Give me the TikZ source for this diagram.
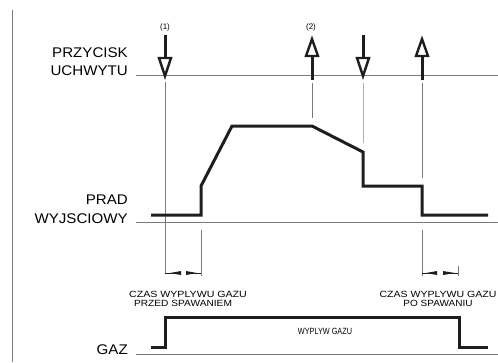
\documentclass[tikz,border=0pt]{standalone}
\usepackage{fontspec}
\setmainfont{Liberation Sans}
\usepackage{graphicx}
\definecolor{thinc}{HTML}{7A7A7A}
\definecolor{wavec}{HTML}{1E1E1E}
\begin{document}
\begin{tikzpicture}[x=1pt,y=-1pt,
  thinline/.style={draw=thinc, line width=0.8pt},
  wave/.style={draw=wavec, line width=3pt, line join=miter},
  biglabel/.style={font=\fontsize{14}{16}\selectfont, anchor=base east, inner sep=0pt},
  smalllabel/.style={font=\fontsize{9}{10}\selectfont, anchor=base, inner sep=0pt},
  numlabel/.style={font=\fontsize{8}{10}\selectfont, anchor=base, inner sep=0pt},
  shaft/.style={draw=wavec, line width=3pt},
  head/.style={draw=wavec, fill=white, line width=2.4pt, line join=miter},
  wedge/.style={fill=wavec, draw=none}
]
\useasboundingbox (0,0) rectangle (498,362);

% frame / axes
\draw[thinline] (12,10) -- (12,362);
\draw[thinline] (136,75) -- (498,75);
\draw[thinline] (136,222) -- (498,222);
\draw[thinline] (136,354) -- (498,354);

% labels
\node[biglabel] (l1) at (128,57) {\scalebox{1.08}[1]{PRZYCISK}};
\node[biglabel] (l2) at (128,75) {\scalebox{1.08}[1]{UCHWYTU}};
\node[biglabel] (l3) at (128,204) {\scalebox{1.08}[1]{PRAD}};
\node[biglabel] (l4) at (128,223) {\scalebox{1.08}[1]{WYJSCIOWY}};
\node[biglabel] (l5) at (128,354) {\scalebox{1.08}[1]{GAZ}};

\node[numlabel] (n1) at (165,29) {(1)};
\node[numlabel] (n2) at (311,29) {(2)};

% vertical guide lines
\draw[thinline] (165,82) -- (165,274);
\draw[thinline] (201,230) -- (201,276);
\draw[thinline] (312,83) -- (312,118);
\draw[thinline, draw=thinc!60] (363,83) -- (363,143);
\draw[thinline] (422,83) -- (422,178);
\draw[thinline] (422,230) -- (422,276);
\draw[thinline] (458,266) -- (458,276);

% down arrows
\foreach \x in {165,363}{
  \draw[shaft] (\x,35) -- (\x,58);
  \draw[head] (\x-6,58) -- (\x+6,58) -- (\x,76) -- cycle;
}
% up arrows
\foreach \x in {312,422}{
  \draw[shaft] (\x,57) -- (\x,80);
  \draw[head] (\x-6,56) -- (\x+6,56) -- (\x,39) -- cycle;
}

% dimension arrows
\draw[draw=wavec, line width=0.8pt] (165,273) -- (181,273);
\fill[wedge] (181,271) -- (181,275) -- (170,273) -- cycle;
\draw[draw=wavec, line width=0.8pt] (186,273) -- (201,273);
\fill[wedge] (186,271) -- (186,275) -- (197,273) -- cycle;

\draw[draw=wavec, line width=0.8pt] (422,273) -- (437,273);
\fill[wedge] (437,271) -- (437,275) -- (426,273) -- cycle;
\draw[draw=wavec, line width=0.8pt] (443,273) -- (458,273);
\fill[wedge] (443,271) -- (443,275) -- (455,273) -- cycle;

% dimension texts
\node[smalllabel] (t1) at (188,297) {\scalebox{1.18}[1]{CZAS WYPLYWU GAZU}};
\node[smalllabel] (t2) at (183,306) {\scalebox{1.13}[1]{PRZED SPAWANIEM}};
\node[smalllabel] (t3) at (438,297) {\scalebox{1.17}[1]{CZAS WYPLYWU GAZU}};
\node[smalllabel] (t4) at (438,306) {\scalebox{1.11}[1]{PO SPAWANIU}};
\node[smalllabel] (t5) at (325,334) {\scalebox{0.81}[1]{WYPLYW GAZU}};

% current waveform
\draw[wave] (151,215) -- (201,215) -- (201,186) -- (232,126) -- (312,126)
  -- (363,152) -- (363,186) -- (422,186) -- (422,215) -- (488,215);

% gas waveform
\draw[wave] (151,347) -- (165,347) -- (165,317) -- (459,317) -- (459,347) -- (488,347);
\end{tikzpicture}
\end{document}
